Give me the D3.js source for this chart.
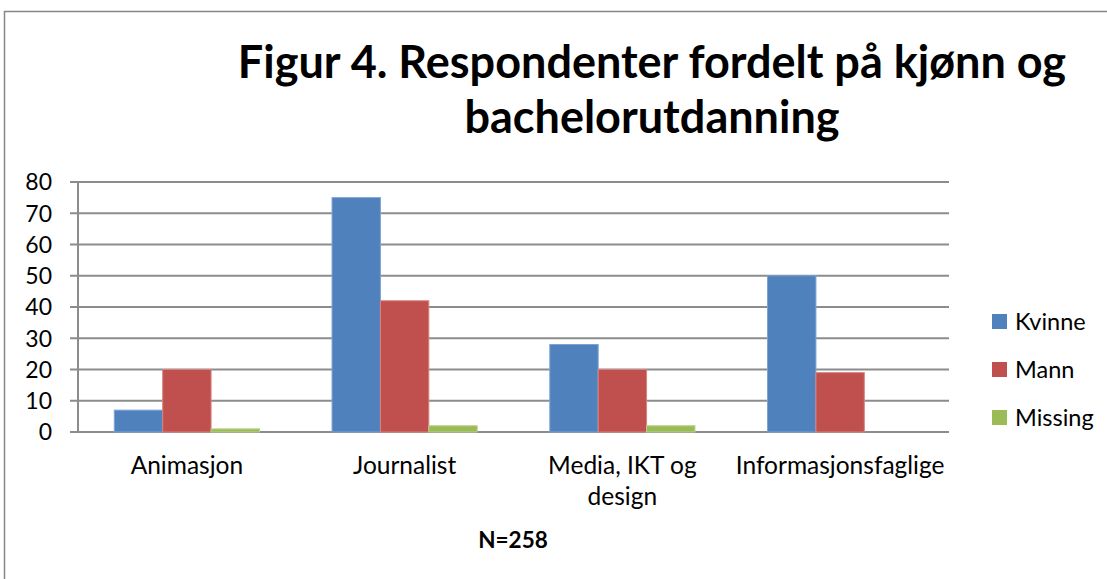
<!DOCTYPE html>
<html>
<head>
<meta charset="utf-8">
<script src="https://cdn.jsdelivr.net/npm/d3@7"></script>
<style>
  html, body { margin: 0; padding: 0; background: #fff; }
  svg { display: block; font-family: Lato, "Open Sans", sans-serif; }
</style>
</head>
<body>
<svg id="chart" width="1107" height="579"></svg>
<script>
const categories = ["Animasjon", "Journalist", "Media, IKT og design", "Informasjonsfaglige"];
const categoryLines = [["Animasjon"], ["Journalist"], ["Media, IKT og", "design"], ["Informasjonsfaglige"]];
const seriesNames = ["Kvinne", "Mann", "Missing"];
const kvinne = [7, 75, 28, 50];
const mann = [20, 42, 20, 19];
const missing = [1, 2, 2, 0];
const yTicks = [0, 10, 20, 30, 40, 50, 60, 70, 80];
const colors = ["#4F81BD", "#C0504D", "#9BBB59"];
const strokes = ["#7ea3d3", "#d98381", "#b7d28a"];
const titleLines = ["Figur 4. Respondenter fordelt på kjønn og", "bachelorutdanning"];
const note = "N=258";

const seriesValues = [kvinne, mann, missing];
const svg = d3.select("#chart");

// outer frame
svg.append("rect").attr("x", 4.5).attr("y", 11.5).attr("width", 1120).attr("height", 600)
  .attr("fill", "none").attr("stroke", "#868686").attr("stroke-width", 1.5);

const plot = { left: 78, right: 949, top: 182, bottom: 432 };

const x = d3.scaleBand().domain(categories).range([plot.left, plot.right]).paddingInner(0).paddingOuter(0);
const gapRatio = 1.5;
const inner = d3.scaleBand().domain(seriesNames)
  .range([x.bandwidth() * (gapRatio / 2) / (3 + gapRatio), x.bandwidth() * (1 - (gapRatio / 2) / (3 + gapRatio))])
  .padding(0);
const y = d3.scaleLinear().domain([0, 80]).range([plot.bottom, plot.top]);

// gridlines
svg.append("g").selectAll("line").data(yTicks).join("line")
  .attr("x1", plot.left - 8).attr("x2", plot.right)
  .attr("y1", d => y(d)).attr("y2", d => y(d))
  .attr("stroke", "#8c8c8c").attr("stroke-width", 2);

// y axis line
svg.append("line").attr("x1", plot.left).attr("x2", plot.left)
  .attr("y1", plot.top).attr("y2", plot.bottom)
  .attr("stroke", "#8c8c8c").attr("stroke-width", 2);

// y tick labels
svg.append("g").selectAll("text").data(yTicks).join("text")
  .attr("x", 52).attr("y", d => y(d)).attr("dy", "0.36em")
  .attr("text-anchor", "end").attr("font-size", 23).attr("fill", "#000")
  .text(d => d);

// bars
const groups = svg.append("g").selectAll("g").data(categories).join("g")
  .attr("transform", d => `translate(${x(d)},0)`);
groups.selectAll("rect").data((c, i) => seriesNames.map((s, j) => ({ s, j, v: seriesValues[j][i] })))
  .join("rect")
  .attr("x", d => inner(d.s))
  .attr("width", inner.bandwidth())
  .attr("y", d => y(d.v))
  .attr("height", d => y(0) - y(d.v))
  .attr("fill", d => colors[d.j])
  .attr("stroke", d => d.v > 0 ? strokes[d.j] : "none")
  .attr("stroke-width", 1);

// x labels
const xl = svg.append("g").selectAll("text").data(categories).join("text")
  .attr("x", d => x(d) + x.bandwidth() / 2)
  .attr("y", 474)
  .attr("text-anchor", "middle").attr("font-size", 24.5).attr("fill", "#000");
xl.each(function(d, i) {
  d3.select(this).selectAll("tspan").data(categoryLines[i]).join("tspan")
    .attr("x", x(d) + x.bandwidth() / 2)
    .attr("dy", (t, k) => k === 0 ? 0 : 31)
    .text(t => t);
});

// title
svg.append("g").selectAll("text").data(titleLines).join("text")
  .attr("x", 652).attr("y", (d, i) => 78 + i * 55)
  .attr("text-anchor", "middle").attr("font-size", 45).attr("font-weight", "bold").attr("fill", "#000")
  .text(d => d);

// note
svg.append("text").attr("x", 513).attr("y", 548).attr("text-anchor", "middle")
  .attr("font-size", 22.5).attr("font-weight", "bold").attr("fill", "#000").text(note);

// legend
const leg = svg.append("g").selectAll("g").data(seriesNames).join("g")
  .attr("transform", (d, i) => `translate(992,${314 + i * 48})`);
leg.append("rect").attr("width", 15).attr("height", 15).attr("fill", (d, i) => colors[i]);
leg.append("text").attr("x", 23).attr("y", 16).attr("font-size", 23.5).attr("fill", "#000").text(d => d);
</script>
</body>
</html>
